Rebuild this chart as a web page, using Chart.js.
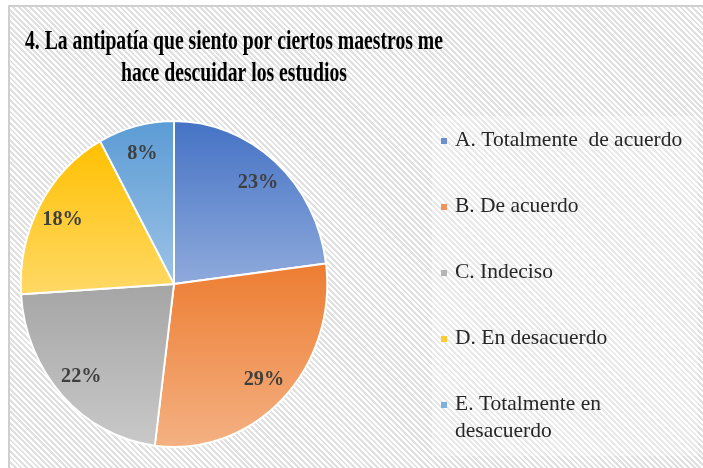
<!DOCTYPE html>
<html><head><meta charset="utf-8">
<script src="https://cdn.jsdelivr.net/npm/chart.js@4.4.1/dist/chart.umd.min.js"></script>
<style>
html,body{margin:0;padding:0;width:703px;height:468px;overflow:hidden;background:#fff;}
#frame{position:absolute;left:8px;top:5px;width:760px;height:520px;border:2px solid #cfcfcf;box-sizing:border-box;
background:repeating-linear-gradient(45deg,#ffffff 0px,#ffffff 2px,#e0e0e0 2px,#e0e0e0 4px);}
#wrap{position:absolute;left:0;top:0;width:703px;height:468px;}
</style></head><body>
<div id="frame"></div>
<div id="wrap"><canvas id="c"></canvas></div>
<script>
// ---- data ----
const titleLines = ['4. La antipatía que siento por ciertos maestros me', 'hace descuidar los estudios'];
const categories = ['A. Totalmente  de acuerdo', 'B. De acuerdo', 'C. Indeciso', 'D. En desacuerdo', 'E. Totalmente en desacuerdo'];
const values = [23, 29, 22, 18, 8];
// ---- style ----
const topColors = ['#4472C4', '#ED7D31', '#A5A5A5', '#FFC000', '#5B9BD5'];
const bottomColors = ['#8FAADC', '#F4B183', '#C9C9C9', '#FFD966', '#9DC3E6'];
const markerColors = ['#6A8FD2', '#F0955A', '#B5B5B5', '#FFCB33', '#7DB0E0'];
const SQUEEZE = 0.94;
const SERIF = "'Liberation Serif','Times New Roman',serif";

function sliceGradient(ctx) {
  const chart = ctx.chart, area = chart.chartArea, i = ctx.dataIndex;
  if (!area || i === undefined) return topColors[i || 0];
  const cx = (area.left + area.right) / 2, cy = (area.top + area.bottom) / 2;
  const r = Math.min(area.right - area.left, area.bottom - area.top) / 2;
  const total = values.reduce((a, b) => a + b, 0);
  let s = 0; for (let k = 0; k < i; k++) s += values[k];
  const a0 = s / total * 2 * Math.PI, a1 = (s + values[i]) / total * 2 * Math.PI;
  const ys = [cy, cy - r * Math.cos(a0), cy - r * Math.cos(a1)];
  if (a0 <= 1e-9 || a1 >= 2 * Math.PI - 1e-9) ys.push(cy - r);
  if (a0 <= Math.PI && a1 >= Math.PI) ys.push(cy + r);
  const y0 = Math.min(...ys), y1 = Math.max(...ys);
  const g = chart.ctx.createLinearGradient(0, y0, 0, y1);
  g.addColorStop(0, topColors[i]);
  g.addColorStop(1, bottomColors[i]);
  return g;
}

const decor = {
  id: 'decor',
  beforeDraw(chart) {
    const c = chart.ctx;
    c.save();
    c.fillStyle = 'rgba(255,255,255,0.3)';
    c.fillRect(432, 116, 266, 340);
    c.restore();
  },
  beforeDatasetsDraw(chart) {
    const a = chart.chartArea, cx = (a.left + a.right) / 2, c = chart.ctx;
    c.save(); c.translate(cx, 0); c.scale(SQUEEZE, 1); c.translate(-cx, 0);
  },
  afterDatasetsDraw(chart) { chart.ctx.restore(); },
  afterDraw(chart) {
    const c = chart.ctx;
    // title
    c.save();
    c.fillStyle = '#000';
    c.font = 'bold 27px ' + SERIF;
    c.textBaseline = 'alphabetic';
    c.textAlign = 'center';
    const w1 = c.measureText(titleLines[0]).width;
    const sx = 418 / w1;
    const tBase = [49, 81];
    titleLines.forEach((t, k) => {
      c.save(); c.translate(234, tBase[k]); c.scale(sx, 1); c.fillText(t, 0, 0); c.restore();
    });
    c.restore();
    // percent labels
    const meta = chart.getDatasetMeta(0);
    c.save();
    c.font = 'bold 22px ' + SERIF;
    c.fillStyle = '#3f3f3f';
    c.textAlign = 'center'; c.textBaseline = 'middle';
    meta.data.forEach((arc, i) => {
      const p = arc.getProps(['x', 'y', 'startAngle', 'endAngle', 'outerRadius'], true);
      const mid = (p.startAngle + p.endAngle) / 2;
      const rr = p.outerRadius * 0.83;
      const x = p.x + Math.cos(mid) * rr * SQUEEZE;
      const y = p.y + Math.sin(mid) * rr;
      c.save(); c.translate(x, y); c.scale(0.92, 1); c.fillText(values[i] + '%', 0, 0); c.restore();
    });
    c.restore();
    // legend
    c.save();
    c.font = '21.5px ' + SERIF;
    c.textAlign = 'left'; c.textBaseline = 'alphabetic';
    const maxW = 238;
    let base = 146;
    categories.forEach((lab, i) => {
      c.fillStyle = markerColors[i];
      c.fillRect(441, base - 8, 6, 6);
      c.fillStyle = '#262626';
      const words = lab.split(' ');
      const lines = []; let cur = '';
      words.forEach(w => {
        const test = cur === '' ? w : cur + ' ' + w;
        if (c.measureText(test).width > maxW && cur !== '') { lines.push(cur); cur = w; } else cur = test;
      });
      lines.push(cur);
      lines.forEach((ln, k) => c.fillText(ln, 455, base + k * 27));
      base += 66;
    });
    c.restore();
  }
};

new Chart(document.getElementById('c'), {
  type: 'pie',
  data: {
    labels: categories,
    datasets: [{
      data: values,
      backgroundColor: sliceGradient,
      borderColor: '#ffffff',
      borderWidth: 2
    }]
  },
  options: {
    responsive: true,
    maintainAspectRatio: false,
    animation: false,
    events: [],
    layout: { padding: { left: 10, right: 365, top: 120, bottom: 20 } },
    plugins: { legend: { display: false }, title: { display: false }, tooltip: { enabled: false } }
  },
  plugins: [decor]
});
</script>
</body></html>
